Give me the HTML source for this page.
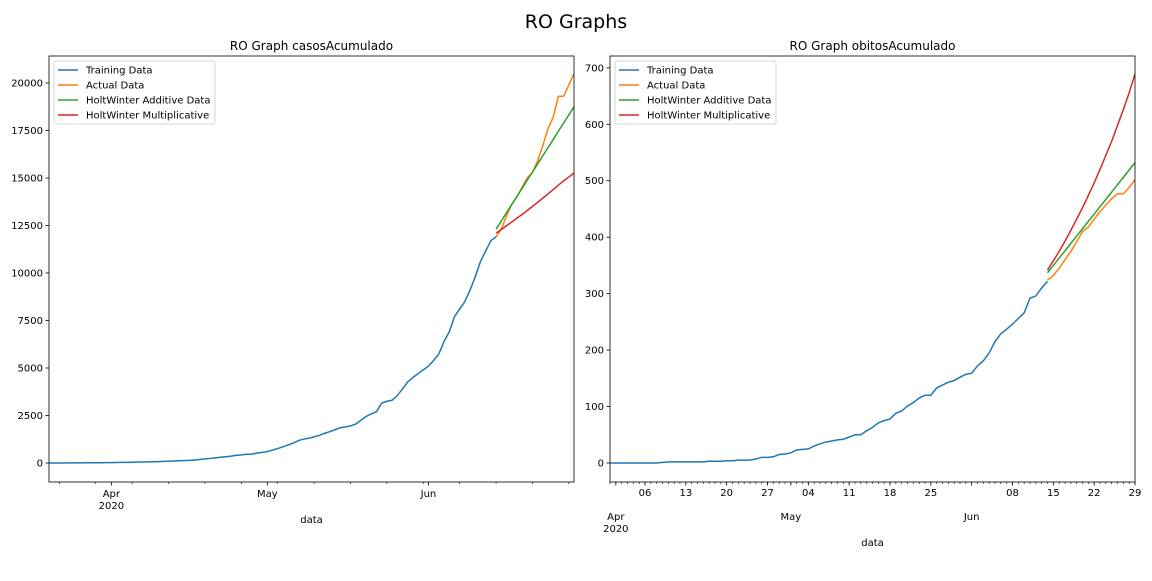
<!DOCTYPE html>
<html><head><meta charset="utf-8"><style>
body{margin:0;background:#fff;width:1152px;height:576px;overflow:hidden}
svg text{font-family:"DejaVu Sans","Liberation Sans",sans-serif;fill:#000}
</style></head><body>
<svg id="fig" width="1152" height="576" viewBox="0 0 1152 576" xmlns="http://www.w3.org/2000/svg">
<rect width="1152" height="576" fill="#fff"/>
<text x="576" y="28" font-size="19" text-anchor="middle">RO Graphs</text>
</svg>
<script>
// ---- data: cases (left) ----
const casesStart = [2020,2,20]; // Mar 20
const casesTrain = [0,1,2,3,5,6,8,10,12,14,16,20,
22,25,30,35,40,45,52,60,68,75,85,95,105,115,125,140,160,185,215,240,270,300,330,360,400,430,460,470,520,560,
600,680,760,850,950,1050,1180,1260,1300,1380,1450,1560,1650,1750,1850,1900,1950,2050,2250,2450,2580,2700,3150,3250,3300,3550,3900,4260,4500,4700,4900,
5100,5400,5740,6400,6900,7700,8100,8500,9100,9800,10600,11150,11700,11900];
const forecastStart = [2020,5,14]; // Jun 14
const casesActual = [11900,12300,13000,13600,14000,14500,15000,15300,15900,16700,17600,18200,19300,19300,19900,20500];
const casesAdd = [12300,12730,13160,13590,14020,14450,14880,15310,15740,16170,16600,17030,17460,17890,18320,18740];
const casesMul = [12100,12290,12480,12680,12880,13080,13290,13500,13720,13940,14160,14390,14620,14850,15050,15260];
// ---- data: deaths (right) ----
const deathsStart = [2020,2,31]; // Mar 31
const deathsTrain = [0,
0,0,0,0,0,0,0,0,1,2,2,2,2,2,2,2,3,3,3,4,4,5,5,5,7,10,10,11,15,16,
18,23,24,25,30,34,37,39,41,42,46,50,50,57,63,71,75,78,88,92,101,107,115,120,120,133,138,143,146,152,157,
159,172,181,195,215,229,237,246,256,266,292,296,310,322];
const deathsActual = [324,332,345,360,375,392,410,418,432,445,457,468,477,477,488,502];
const deathsAdd = [337,350,363,376,389,402,415,428,441,454,467,480,493,506,519,532];
const deathsMul = [342,358,375,393,412,432,452,474,496,520,545,570,598,626,656,689];
const leftYTicks = [0,2500,5000,7500,10000,12500,15000,17500,20000];
const rightYTicks = [0,100,200,300,400,500,600,700];
const rightDayLabels = ["06","13","20","27","04","11","18","25","08","15","22","29"];
const legendLabels = ["Training Data","Actual Data","HoltWinter Additive Data","HoltWinter Multiplicative"];
const colors = ["#1f77b4","#ff7f0e","#2ca02c","#d62728"];

const NS="http://www.w3.org/2000/svg";
const svg=document.getElementById('fig');
function mk(tag,attrs,parent){const e=document.createElementNS(NS,tag);for(const k in attrs)e.setAttribute(k,attrs[k]);(parent||svg).appendChild(e);return e;}
function dayNum(y,m,d){return Date.UTC(y,m,d)/86400000;}

function panel(cfg){
  const g=mk('g',{});
  
  
  const X=t=>cfg.x0+(t-cfg.t0)/(cfg.t1-cfg.t0)*(cfg.x1-cfg.x0);
  const Y=v=>cfg.y1-(v-cfg.vmin)/(cfg.vmax-cfg.vmin)*(cfg.y1-cfg.y0);
  const title=mk('text',{x:(cfg.x0+cfg.x1)/2,y:cfg.y0-6,'font-size':12,'text-anchor':'middle'},g);
  title.textContent=cfg.title;
  
  
  cfg.yticks.forEach(v=>{
    const y=Y(v);
    mk('line',{x1:cfg.x0-3.5,x2:cfg.x0,y1:y,y2:y,stroke:'#000','stroke-width':0.8},g);
    const t=mk('text',{x:cfg.x0-6,y:y+3.5,'font-size':10,'text-anchor':'end'},g);
    t.textContent=v;
    
    
  });
  cfg.xaxis(g,X);
  const xl=mk('text',{x:(cfg.x0+cfg.x1)/2,y:cfg.xlabelY,'font-size':10,'text-anchor':'middle'},g);
  xl.textContent='data';
  
  
  const clip='clip'+cfg.name;
  const cp=mk('clipPath',{id:clip},g);mk('rect',{x:cfg.x0,y:cfg.y0,width:cfg.x1-cfg.x0,height:cfg.y1-cfg.y0},cp);
  const names=['training-line','actual-line','additive-line','multiplicative-line'];
  cfg.series.forEach((s,i)=>{
    const pts=s.vals.map((v,k)=>X(s.t0+k).toFixed(2)+','+Y(v).toFixed(2)).join(' ');
    const p=mk('polyline',{points:pts,fill:'none',stroke:colors[i],'stroke-width':1.5,'clip-path':'url(#'+clip+')'},g);
    
    
  });
  const fr=mk('rect',{x:cfg.x0,y:cfg.y0,width:cfg.x1-cfg.x0,height:cfg.y1-cfg.y0,fill:'none',stroke:'#000','stroke-width':0.8},g);
  
  
  const lg=mk('g',{},g);
  
  
  const lx=cfg.x0+5,ly=cfg.y0+5;
  mk('rect',{x:lx,y:ly,width:161,height:63,rx:2,fill:'#fff','fill-opacity':0.8,stroke:'#ccc','stroke-width':0.8},lg);
  legendLabels.forEach((lab,i)=>{
    const yy=ly+9+i*15;
    const e=mk('g',{},lg);
    
    
    mk('line',{x1:lx+4,x2:lx+24,y1:yy,y2:yy,stroke:colors[i],'stroke-width':1.5},e);
    const t=mk('text',{x:lx+32,y:yy+3.5,'font-size':10},e);t.textContent=lab;
  });
}

const fs=dayNum(...forecastStart);
const cs=dayNum(...casesStart);
panel({name:'cases-panel',title:'RO Graph casosAcumulado',x0:49,x1:574,y0:56,y1:482,
  t0:cs,t1:dayNum(2020,5,29),vmin:-1000,vmax:21421,yticks:leftYTicks,xlabelY:523,
  series:[{t0:cs,vals:casesTrain},{t0:fs,vals:casesActual},{t0:fs,vals:casesAdd},{t0:fs,vals:casesMul}],
  xaxis:(g,X)=>{
    const y=482;
    for(let d=dayNum(2020,2,22);d<=dayNum(2020,5,29);d+=7){mk('line',{x1:X(d),x2:X(d),y1:y,y2:y+2,stroke:'#000','stroke-width':0.6},g);}
    [[dayNum(2020,3,1),'Apr','2020'],[dayNum(2020,4,1),'May',''],[dayNum(2020,5,1),'Jun','']].forEach(m=>{
      const x=X(m[0]);mk('line',{x1:x,x2:x,y1:y,y2:y+3.5,stroke:'#000','stroke-width':0.8},g);
      const t=mk('text',{x:x,y:y+15,'font-size':10,'text-anchor':'middle'},g);t.textContent=m[1];
      
      
      if(m[2]){const t2=mk('text',{x:x,y:y+27,'font-size':10,'text-anchor':'middle'},g);t2.textContent=m[2];}
    });
  }});
const ds=dayNum(...deathsStart);
panel({name:'deaths-panel',title:'RO Graph obitosAcumulado',x0:610,x1:1135,y0:56,y1:482,
  t0:ds,t1:dayNum(2020,5,29),vmin:-33.7,vmax:721,yticks:rightYTicks,xlabelY:546,
  series:[{t0:ds,vals:deathsTrain},{t0:fs,vals:deathsActual},{t0:fs,vals:deathsAdd},{t0:fs,vals:deathsMul}],
  xaxis:(g,X)=>{
    const y=482;
    for(let d=ds;d<=dayNum(2020,5,29);d++){mk('line',{x1:X(d),x2:X(d),y1:y,y2:y+2,stroke:'#000','stroke-width':0.6},g);}
    let k=0;
    for(let d=dayNum(2020,3,6);d<=dayNum(2020,5,29);d+=7){
      const dt=new Date(d*86400000);if(dt.getUTCDate()===1)continue;
      const x=X(d);mk('line',{x1:x,x2:x,y1:y,y2:y+3.5,stroke:'#000','stroke-width':0.8},g);
      const t=mk('text',{x:x,y:y+14,'font-size':10,'text-anchor':'middle'},g);
      t.textContent=rightDayLabels[k++];
      
      
    }
    [[dayNum(2020,3,1),'Apr','2020'],[dayNum(2020,4,1),'May',''],[dayNum(2020,5,1),'Jun','']].forEach(m=>{
      const x=X(m[0]);mk('line',{x1:x,x2:x,y1:y,y2:y+3.5,stroke:'#000','stroke-width':0.8},g);
      const t=mk('text',{x:x,y:y+38,'font-size':10,'text-anchor':'middle'},g);t.textContent=m[1];
      
      
      if(m[2]){const t2=mk('text',{x:x,y:y+50,'font-size':10,'text-anchor':'middle'},g);t2.textContent=m[2];}
    });
  }});
</script>
</body></html>
